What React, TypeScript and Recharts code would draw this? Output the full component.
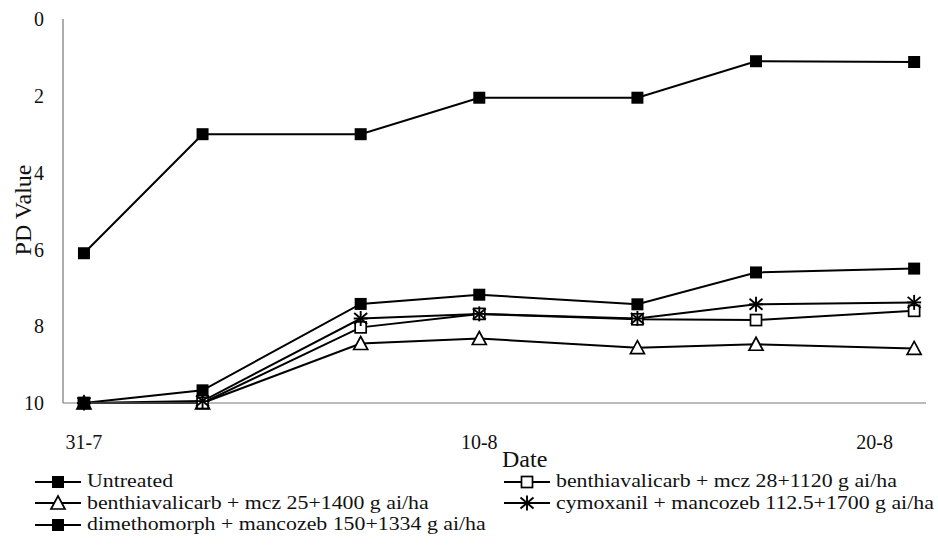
import React from "react";
import { LineChart, Line, XAxis, YAxis } from "recharts";

const dates = ["31-7", "3-8", "7-8", "10-8", "14-8", "17-8", "21-8"];
const dayOffsets = [0, 3, 7, 10, 14, 17, 21];
const untreated = [6.1, 3.0, 3.0, 2.05, 2.05, 1.1, 1.12];
const benth28 = [10, 10, 8.03, 7.68, 7.82, 7.84, 7.6];
const benth25 = [10, 10, 8.45, 8.32, 8.56, 8.47, 8.58];
const cymox = [10, 9.95, 7.8, 7.68, 7.8, 7.43, 7.38];
const dimeth = [10, 9.67, 7.42, 7.18, 7.43, 6.6, 6.5];
const xTicks = [0, 10, 20];
const xTickLabels = ["31-7", "10-8", "20-8"];
const yTicks = [0, 2, 4, 6, 8, 10];

const seriesNames = [
  "Untreated",
  "benthiavalicarb + mcz 28+1120 g ai/ha",
  "benthiavalicarb + mcz 25+1400 g ai/ha",
  "cymoxanil + mancozeb 112.5+1700 g ai/ha",
  "dimethomorph + mancozeb 150+1334 g ai/ha",
];

const data = dates.map((d, i) => ({
  date: d,
  day: dayOffsets[i],
  untreated: untreated[i],
  benth28: benth28[i],
  benth25: benth25[i],
  cymox: cymox[i],
  dimeth: dimeth[i],
}));

const FONT = "'Liberation Serif', serif";

type MarkerKind = "filled" | "open" | "triangle" | "star";

const drawMarker = (kind: MarkerKind, cx: number, cy: number, key?: any) => {
  if (kind === "filled") {
    return <rect key={key} x={cx - 6} y={cy - 6} width={12} height={12} fill="#000" />;
  }
  if (kind === "open") {
    return (
      <rect key={key} x={cx - 5.5} y={cy - 5.5} width={11} height={11} fill="#fff" stroke="#000" strokeWidth={1.7} />
    );
  }
  if (kind === "triangle") {
    return (
      <polygon
        key={key}
        points={`${cx},${cy - 7} ${cx + 7},${cy + 6} ${cx - 7},${cy + 6}`}
        fill="#fff"
        stroke="#000"
        strokeWidth={1.7}
      />
    );
  }
  return (
    <g key={key} stroke="#000" strokeWidth={1.9}>
      <line x1={cx} y1={cy - 7.5} x2={cx} y2={cy + 7.5} />
      <line x1={cx - 6.5} y1={cy - 5.5} x2={cx + 6.5} y2={cy + 5.5} />
      <line x1={cx - 6.5} y1={cy + 5.5} x2={cx + 6.5} y2={cy - 5.5} />
      <line x1={cx - 7} y1={cy} x2={cx + 7} y2={cy} />
    </g>
  );
};

const makeDot = (kind: MarkerKind) => (props: any) => {
  const { cx, cy, index } = props;
  if (cx == null || cy == null) return <g key={index} />;
  return drawMarker(kind, cx, cy, index);
};

const LegendItem = ({ kind, label }: { kind: MarkerKind; label: string }) => (
  <div style={{ display: "flex", alignItems: "center", height: 21.5, lineHeight: "21px" }}>
    <svg width={48} height={18} style={{ flex: "none" }}>
      <line x1={1} y1={9} x2={47} y2={9} stroke="#000" strokeWidth={1.9} />
      {drawMarker(kind, 24, 9)}
    </svg>
    <span
      style={{
        marginLeft: 5,
        whiteSpace: "nowrap",
        display: "inline-block",
        transform: "scaleX(1.18)",
        transformOrigin: "left center",
      }}
    >
      {label}
    </span>
  </div>
);

export default function App() {
  return (
    <div
      style={{
        position: "absolute",
        left: 0,
        top: 0,
        width: 938,
        height: 552,
        background: "#fff",
        fontFamily: FONT,
        color: "#111",
        overflow: "hidden",
      }}
    >
      <LineChart
        width={938}
        height={460}
        data={data}
        margin={{ top: 19, right: 12, bottom: 16, left: 0 }}
        style={{ fontFamily: FONT }}
      >
        <XAxis
          dataKey="day"
          type="number"
          domain={[-0.53, 21.3]}
          ticks={xTicks}
          tickFormatter={(v: number) => xTickLabels[xTicks.indexOf(v)] ?? ""}
          tickLine={false}
          axisLine={{ stroke: "#777", strokeWidth: 1.2 }}
          tick={{ fill: "#111", fontSize: 20, fontFamily: FONT }}
          tickMargin={26}
          height={41}
          allowDataOverflow
        />
        <YAxis
          type="number"
          domain={[0, 10]}
          reversed
          ticks={yTicks}
          tickLine={false}
          axisLine={{ stroke: "#777", strokeWidth: 1.2 }}
          tick={{ fill: "#111", fontSize: 20, fontFamily: FONT }}
          tickMargin={13}
          width={63}
        />
        <Line dataKey="untreated" stroke="#000" strokeWidth={2} dot={makeDot("filled")} isAnimationActive={false} />
        <Line dataKey="benth25" stroke="#000" strokeWidth={2} dot={makeDot("triangle")} isAnimationActive={false} />
        <Line dataKey="benth28" stroke="#000" strokeWidth={2} dot={makeDot("open")} isAnimationActive={false} />
        <Line dataKey="cymox" stroke="#000" strokeWidth={2} dot={makeDot("star")} isAnimationActive={false} />
        <Line dataKey="dimeth" stroke="#000" strokeWidth={2} dot={makeDot("filled")} isAnimationActive={false} />
      </LineChart>
      <div
        style={{
          position: "absolute",
          left: 23,
          top: 190,
          width: 0,
          height: 40,
          transform: "rotate(-90deg)",
          fontSize: 24,
          whiteSpace: "nowrap",
          display: "flex",
          justifyContent: "center",
          alignItems: "center",
        }}
      >
        <span>PD Value</span>
      </div>
      <div style={{ position: "absolute", left: 502, top: 445, fontSize: 24, lineHeight: "28px" }}>Date</div>
      <div style={{ position: "absolute", left: 34, top: 471, fontSize: 18.5 }}>
        <LegendItem kind="filled" label={seriesNames[0]} />
        <LegendItem kind="triangle" label={seriesNames[2]} />
        <LegendItem kind="filled" label={seriesNames[4]} />
      </div>
      <div style={{ position: "absolute", left: 503, top: 471, fontSize: 18.5 }}>
        <LegendItem kind="open" label={seriesNames[1]} />
        <LegendItem kind="star" label={seriesNames[3]} />
      </div>
    </div>
  );
}
